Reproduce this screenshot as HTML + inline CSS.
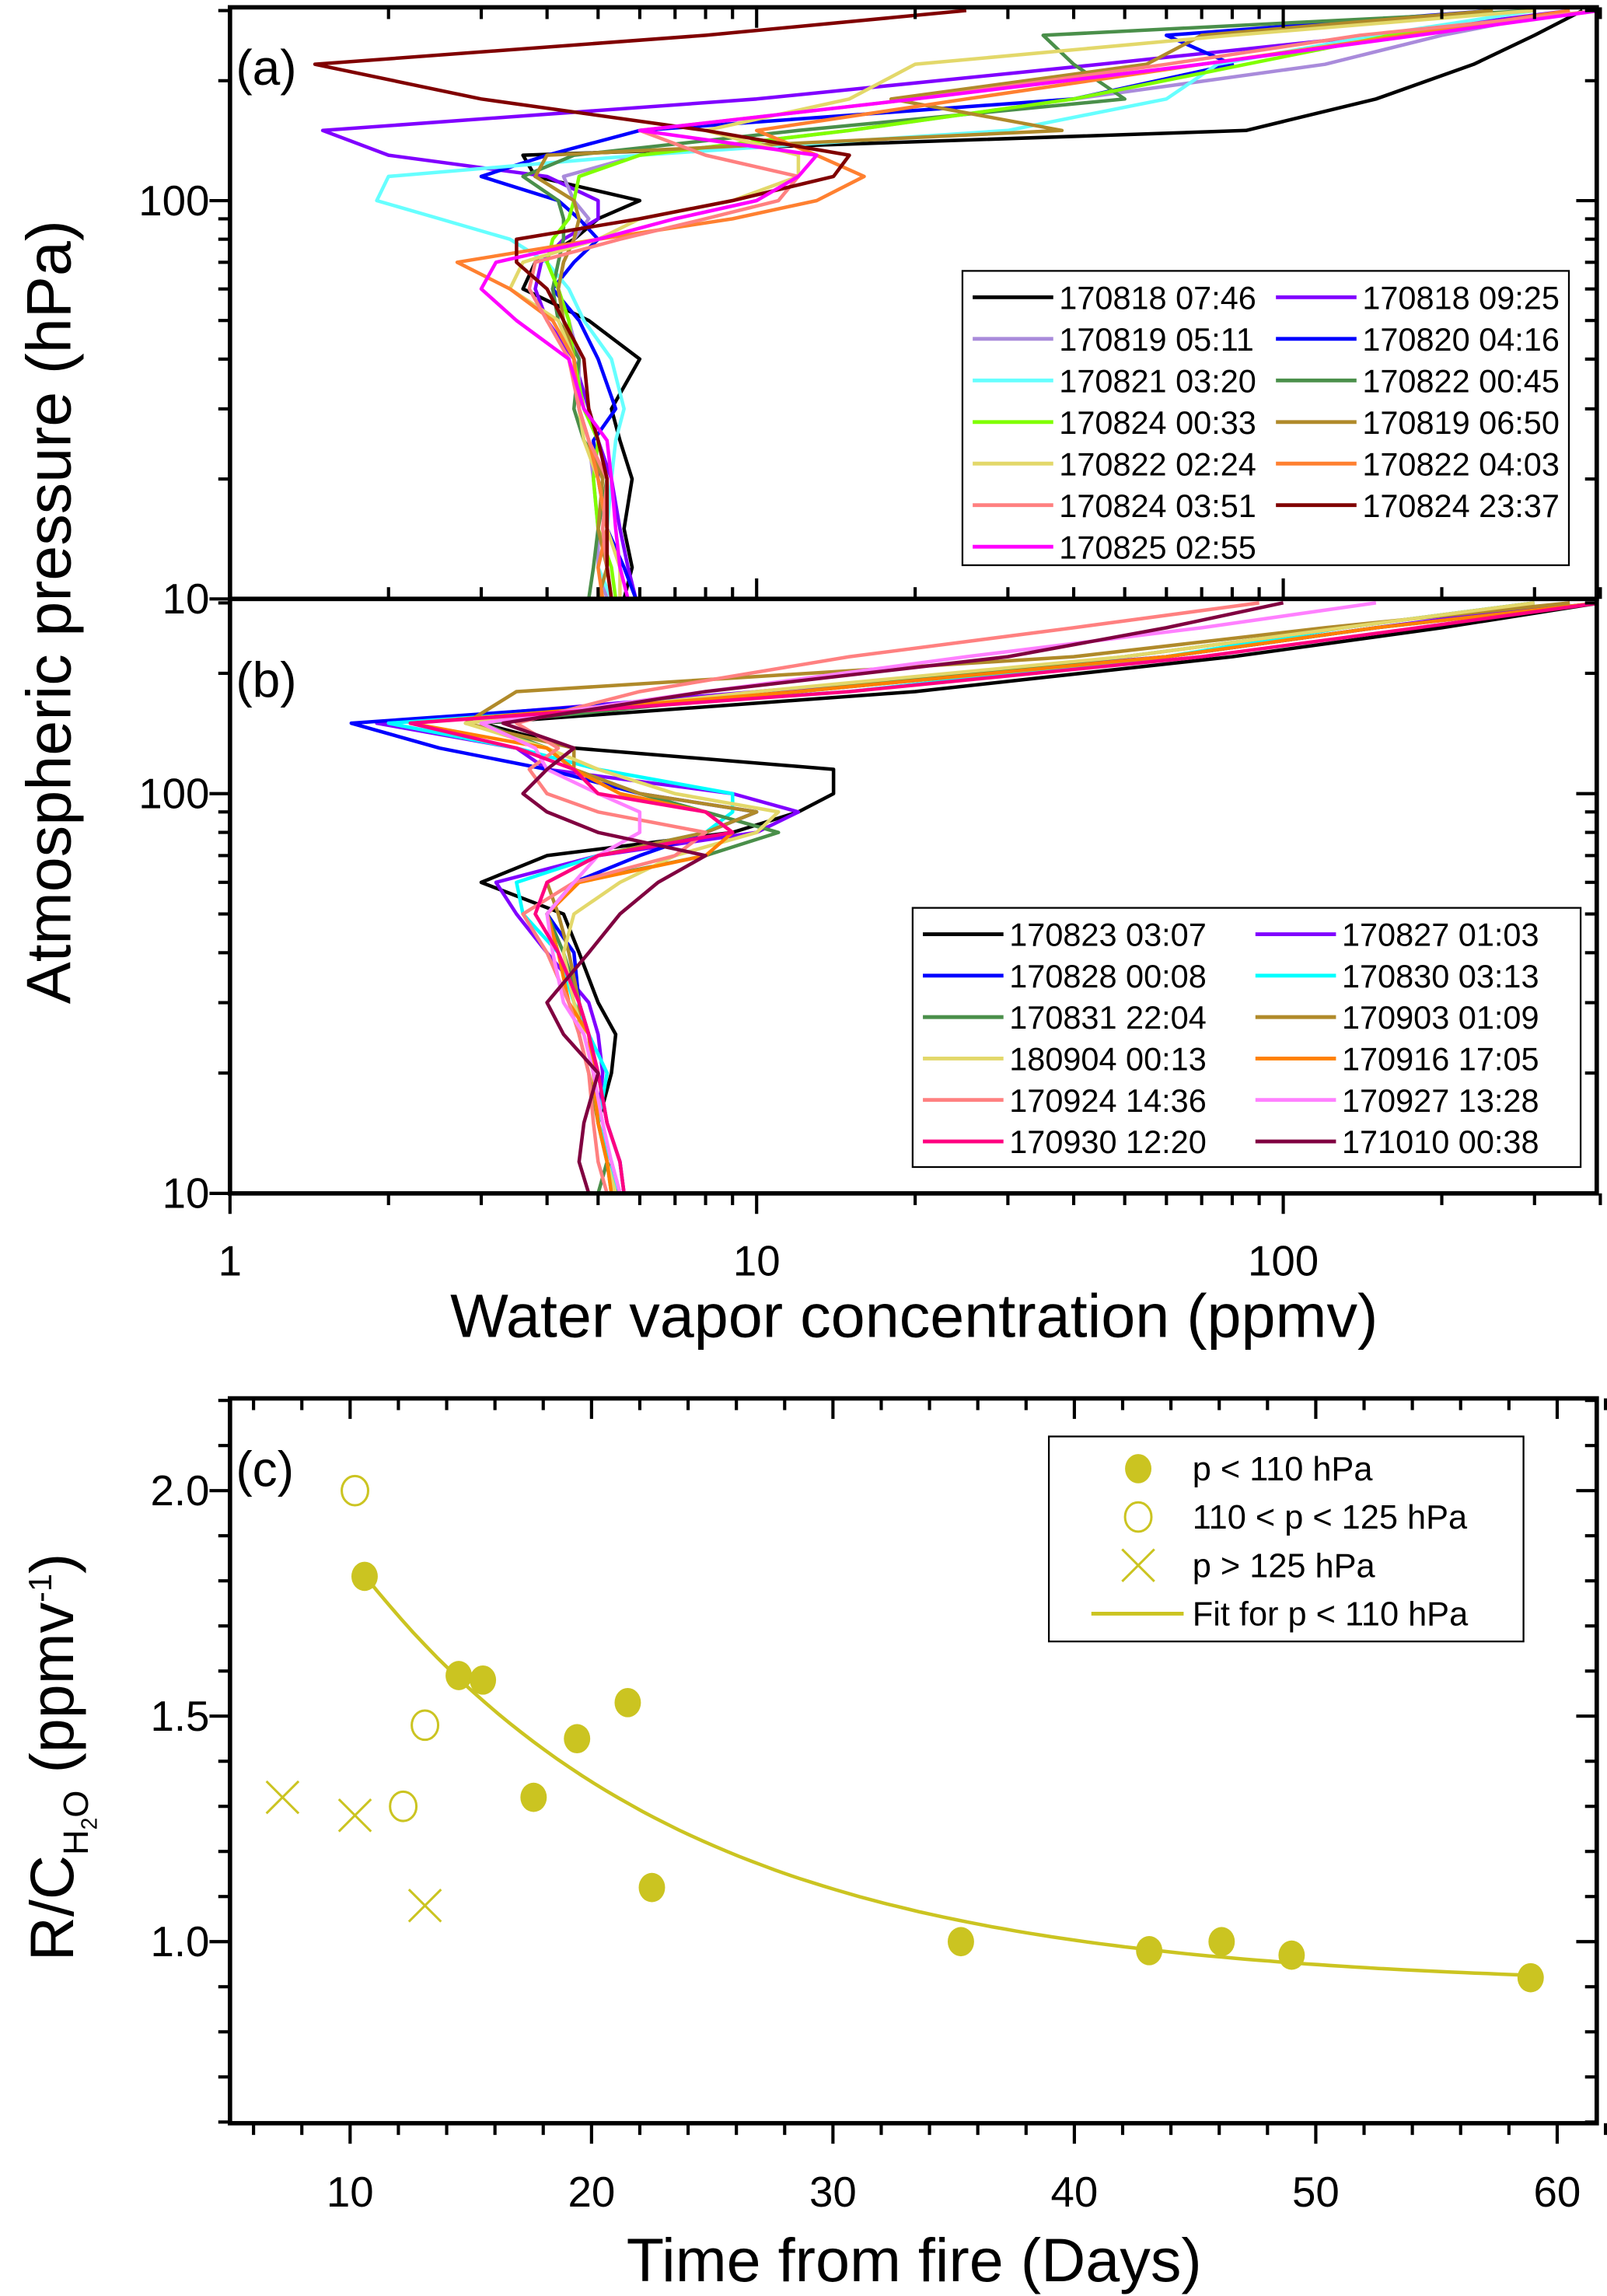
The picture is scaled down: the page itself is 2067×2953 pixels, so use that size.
<!DOCTYPE html>
<html><head><meta charset="utf-8">
<style>
html,body{margin:0;padding:0;background:#fff;}
svg{display:block;}
text{font-family:"Liberation Sans Narrow","Liberation Sans",sans-serif;fill:#000;}
</style></head>
<body>
<svg id="fig" width="2067" height="2953" viewBox="0 0 1097 1568" preserveAspectRatio="none" xmlns="http://www.w3.org/2000/svg">
<rect x="0" y="0" width="1097" height="1568" fill="#fff"/>
</svg>
<script>
// ---------- data ----------
const levels = [10,12,15,20,25,30,40,50,60,70,80,90,100,115,130,150,180,220,260,300];
const namesA = ["170818 07:46","170818 09:25","170819 05:11","170820 04:16","170821 03:20","170822 00:45","170824 00:33","170819 06:50","170822 02:24","170822 04:03","170824 03:51","170824 23:37","170825 02:55"];
const colorsA = ["#000000","#8000ff","#a98bdb","#0000ff","#66ffff","#4a8f4a","#80ff00","#b08a2a","#e3d86a","#ff8030","#ff8080","#800000","#ff00ff"];
const a0 = [5.6,5.8,5.6,5.8,5.5,5.3,6.0,4.8,3.6,3.8,4.5,5.0,6.0,3.8,3.6,85,150,230,300,370];
const a1 = [5.9,5.7,5.5,5.3,5.0,4.8,4.5,4.0,3.8,3.9,4.3,5.0,5.0,4.0,2.0,1.5,10,45,150,350];
const a2 = [5.2,5.0,5.0,4.9,4.8,4.6,4.6,4.4,4.2,4.3,4.5,4.8,4.5,4.3,6,15,40,120,200,350];
const a3 = [5.9,5.6,5.2,5.0,4.9,5.4,5.0,4.6,4.1,4.5,5.0,4.6,4.2,3.0,4.0,6,40,80,60,250];
const a4 = [5.3,5.0,5.2,5.3,5.4,5.6,5.3,4.7,4.4,4.0,3.4,2.5,1.9,2.0,6,30,60,75,150,300];
const a5 = [4.8,4.9,5.0,5.2,4.7,4.5,4.6,4.2,4.1,4.2,4.3,4.3,4.2,3.6,4.5,12,50,40,35,300];
const a6 = [5.4,5.3,5.0,4.9,5.0,4.7,4.5,4.4,4.2,4.0,4.1,4.4,4.5,4.6,6,15,40,85,160,400];
const a7 = [5.0,5.2,5.0,5.1,4.8,4.6,4.5,4.3,4.2,4.3,4.5,4.6,4.5,3.8,4.0,38,18,55,70,250];
const a8 = [5.5,5.5,5.2,5.0,4.7,4.6,4.5,4.2,3.4,3.6,5.0,6.0,9.0,12,12,8,15,20,80,300];
const a9 = [5.1,5.0,5.2,5.0,4.8,4.6,4.5,4.1,3.4,2.7,5,9,13,16,13,10,25,70,170,350];
const a10 = [5.3,5.2,5.1,5.2,4.8,4.6,4.4,4.0,3.7,3.8,5.5,8,11,12,8.0,6,20,60,140,400];
const a11 = [5.3,5.2,5.2,5.2,5.0,4.8,4.7,4.3,4.0,3.5,3.5,6,9,14,15,8,3,1.45,8,25];
const a12 = [5.7,5.5,5.4,5.3,5.2,4.7,4.4,3.5,3.0,3.2,5,7,10,12,13,6,20,70,180,400];
const seriesA = [a0,a1,a2,a3,a4,a5,a6,a7,a8,a9,a10,a11,a12];

const namesB = ["170823 03:07","170827 01:03","170828 00:08","170830 03:13","170831 22:04","170903 01:09","180904 00:13","170916 17:05","170924 14:36","170927 13:28","170930 12:20","171010 00:38"];
const colorsB = ["#000000","#8000ff","#0000ff","#00ffff","#4a8f4a","#b08a2a","#e3d86a","#ff8000","#ff8080","#ff80ff","#ff0080","#800040"];
const b0 = [5.5,5.2,5.0,5.3,5.4,5.0,4.6,4.3,3.0,4.0,9,12,14,14,4.5,3,20,80,200,400];
const b1 = [5.5,5.3,5.0,5.1,5.0,4.8,4.0,3.5,3.2,5,10,12,9,4,3.5,1.9,10,60,150,350];
const b2 = [5.6,5.5,5.2,5.0,4.8,4.6,4.5,4.0,4.5,6,8,10,6,4,2.5,1.7,12,60,150,400];
const b3 = [5.4,5.3,5.0,5.2,4.8,4.5,4.2,3.6,3.5,5,8,9,9,5,3.5,2.0,15,60,130,300];
const b4 = [5.0,5.2,5.0,4.9,4.8,4.6,4.3,4.0,4.5,8,11,8,6,4.5,4,3,12,50,130,300];
const b5 = [5.3,5.2,5.0,4.8,4.6,4.6,4.4,4.2,4.0,5.0,8,10,6,4.5,4.5,2.8,3.5,40,120,350];
const b6 = [5.4,5.2,5.0,4.9,4.7,4.5,4.3,4.5,5.5,7,10,11,7,5,4,2.8,10,50,130,300];
const b7 = [5.3,5.2,5.0,4.9,4.8,4.4,4.2,4.0,4.6,8,9,8,5.5,4.5,4.0,2.2,12,60,150,400];
const b8 = [5.2,5.0,4.9,4.8,4.6,4.4,4.0,3.6,4.5,7,8,5,4,3.7,4.2,3.5,6,15,40,90];
const b9 = [5.5,5.3,5.1,4.9,4.7,4.3,4.1,4.0,4.5,5,6,6,5,4,3.8,3.0,8,25,70,150];
const b10 = [5.6,5.5,5.2,5.0,4.8,4.6,4.2,3.8,4.0,5,9,8,5,4.5,3.5,2.2,15,70,180,400];
const b11 = [4.8,4.6,4.7,5.0,4.3,4.0,4.8,5.5,6.5,8,5,4,3.6,4,4.5,3.3,8,30,60,100];
const seriesB = [b0,b1,b2,b3,b4,b5,b6,b7,b8,b9,b10,b11];

// panel c
const fillX = [10.6,14.5,15.5,17.6,19.4,21.5,22.5,35.3,43.1,46.1,49.0,58.9];
const fillY = [1.81,1.59,1.58,1.32,1.45,1.53,1.12,1.00,0.98,1.00,0.97,0.92];
const openX = [10.2,13.1,12.2];
const openY = [2.00,1.48,1.30];
const crossX = [7.2,10.2,13.1];
const crossY = [1.32,1.28,1.08];
const fitA = 0.9, fitC = 2.0, fitT = 13.5;
const xTicksC = [10,20,30,40,50,60];
const yTicksC = [1.0,1.5,2.0];

// ---------- helpers ----------
const NS = "http://www.w3.org/2000/svg";
const svg = document.getElementById("fig");
function el(tag, attrs, parent){
  const e = document.createElementNS(NS, tag);
  for (const k in attrs) e.setAttribute(k, attrs[k]);
  (parent||svg).appendChild(e);
  return e;
}
const L = 157, R = 1090;
const lx = v => L + Math.log10(v) * 359.5;
const pyA = p => 409 - (Math.log10(p) - 1) * 272;
const pyB = p => 815 - (Math.log10(p) - 1) * 273;
const cx = d => 239 + (d - 10) * 16.48;
const cy = v => 1326 - (v - 1.0) * 308;

function drawProfiles(series, colors, py, name){
  const g = el("g", {"clip-path": "url(#clip-" + name + ")"});
  
  
  series.forEach((s, i) => {
    const pts = s.map((v, j) => lx(v).toFixed(1) + "," + py(levels[j]).toFixed(1)).join(" ");
    const pl = el("polyline", {points: pts, fill: "none", stroke: colors[i], "stroke-width": 2.4, "stroke-linejoin": "round"}, g);
    
    
  });
}
const defs = el("defs", {});
const c1 = el("clipPath", {id: "clip-panel-a"}, defs);
el("rect", {x: L, y: 5, width: R - L, height: 404}, c1);
const c2 = el("clipPath", {id: "clip-panel-b"}, defs);
el("rect", {x: L, y: 409, width: R - L, height: 406}, c2);

drawProfiles(seriesA, colorsA, pyA, "panel-a");
drawProfiles(seriesB, colorsB, pyB, "panel-b");

function frame(x, y, w, h, name){
  const r = el("rect", {x: x, y: y, width: w, height: h, fill: "none", stroke: "#000", "stroke-width": 3});
  
  
}
frame(L, 5, R - L, 404, "panel-a-frame");
frame(L, 409, R - L, 406, "panel-b-frame");
frame(L, 955, R - L, 495, "panel-c-frame");

function tick(x1, y1, x2, y2, w){
  const t = el("line", {x1: x1, y1: y1, x2: x2, y2: y2, stroke: "#000", "stroke-width": w || 2.2});
  
  
}
function label(x, y, s, size, anchor, name){
  const t = el("text", {x: x, y: y, "font-size": size, "text-anchor": anchor || "middle"});
  t.textContent = s;
  
  
  return t;
}

for (let dec = 1; dec <= 100; dec *= 10){
  for (let m = 1; m <= 9; m++){
    const v = dec * m; if (v > 400) break;
    const x = lx(v), major = m === 1;
    const len = major ? 14 : 8;
    tick(x, 815, x, 815 + len);
    tick(x, 409, x, 409 - len);
    tick(x, 5, x, 5 + len);
  }
}
[1,10,100].forEach(v => label(lx(v), 871, String(v), 29, "middle", "x-tick-label"));

[pyA, pyB].forEach(py => {
  for (let v = 10; v <= 300; v += (v < 100 ? 10 : 100)){
    const y = py(v), major = (v === 10 || v === 100);
    tick(L, y, L - (major ? 14 : 8), y);
    tick(R, y, R - (major ? 14 : 8), y);
  }
});
label(143, 147, "100", 29, "end", "y-tick-label");
label(143, 419, "10", 29, "end", "y-tick-label");
label(143, 552, "100", 29, "end", "y-tick-label");
label(143, 825, "10", 29, "end", "y-tick-label");

label(161, 58, "(a)", 34, "start", "panel-a-label");
label(161, 476, "(b)", 34, "start", "panel-b-label");
label(161, 1015, "(c)", 34, "start", "panel-c-label");

const yt = label(0, 0, "Atmospheric pressure (hPa)", 43, "middle", "y-axis-title-ab");
yt.setAttribute("transform", "translate(48,418) rotate(-90)");
yt.setAttribute("font-family", "Liberation Sans, sans-serif");
const xt = label(624, 913, "Water vapor concentration (ppmv)", 42, "middle", "x-axis-title-ab");
xt.setAttribute("font-family", "Liberation Sans, sans-serif");

function legend(x, y, w, h, names, colors, col2x, rowH, name){
  const g = el("g", {});
  
  
  el("rect", {x: x, y: y, width: w, height: h, fill: "#fff", stroke: "#000", "stroke-width": 1.2}, g);
  names.forEach((n, i) => {
    const col = i % 2, row = Math.floor(i / 2);
    const bx = x + 7 + col * col2x, by = y + 18 + row * rowH;
    const ln = el("line", {x1: bx, y1: by, x2: bx + 55, y2: by, stroke: colors[i], "stroke-width": 2.6}, g);
    
    
    const t = el("text", {x: bx + 59, y: by + 8, "font-size": 22}, g);
    t.textContent = n;
    
    
  });
}
legend(657, 185, 414, 201, namesA, colorsA, 207, 28.4, "legend-a");
legend(623, 620, 456, 177, namesB, colorsB, 227, 28.3, "legend-b");

// ---------- panel c ----------
const col = "#cbc421";
for (let d = 6; d <= 62; d += 2){
  const x = cx(d), major = d % 10 === 0;
  tick(x, 1450, x, 1450 + (major ? 14 : 8));
  tick(x, 955, x, 955 + (major ? 14 : 8));
}
xTicksC.forEach(d => label(cx(d), 1507, String(d), 29, "middle", "x-tick-label-c"));
for (let k = 6; k <= 22; k++){
  const v = k / 10, y = cy(v), major = k % 5 === 0;
  tick(L, y, L - (major ? 14 : 8), y);
  tick(R, y, R - (major ? 14 : 8), y);
}
yTicksC.forEach(v => label(143, cy(v) + 10, v.toFixed(1), 29, "end", "y-tick-label-c"));
const xtc = label(624, 1558, "Time from fire (Days)", 42, "middle", "x-axis-title-c");
xtc.setAttribute("font-family", "Liberation Sans, sans-serif");
const ytc = el("text", {transform: "translate(50,1200) rotate(-90)", "font-size": 42, "text-anchor": "middle", "font-family": "Liberation Sans, sans-serif"});


ytc.innerHTML = 'R/C<tspan font-size="24" dy="10">H</tspan><tspan font-size="15" dy="6">2</tspan><tspan font-size="24" dy="-6">O</tspan><tspan dy="-10"> (ppmv</tspan><tspan font-size="22" dy="-15">-1</tspan><tspan dy="15">)</tspan>';

let fp = [];
for (let d = fillX[0]; d <= 59.0; d += 0.5){
  fp.push(cx(d).toFixed(1) + "," + cy(fitA + fitC * Math.exp(-d / fitT)).toFixed(1));
}
const fit = el("polyline", {points: fp.join(" "), fill: "none", stroke: col, "stroke-width": 2.4});



fillX.forEach((d, i) => {
  const e = el("ellipse", {cx: cx(d), cy: cy(fillY[i]), rx: 9, ry: 10, fill: col});
  
  
});
openX.forEach((d, i) => {
  const e = el("ellipse", {cx: cx(d), cy: cy(openY[i]), rx: 9, ry: 10, fill: "none", stroke: col, "stroke-width": 1.6});
  
  
});
crossX.forEach((d, i) => {
  const x = cx(d), y = cy(crossY[i]);
  const e = el("path", {d: `M${x-11},${y-11}L${x+11},${y+11}M${x+11},${y-11}L${x-11},${y+11}`, stroke: col, "stroke-width": 1.6, fill: "none"});
  
  
});

const gl = el("g", {});


el("rect", {x: 716, y: 981, width: 324, height: 140, fill: "#fff", stroke: "#000", "stroke-width": 1.2}, gl);
const lc = ["p < 110 hPa", "110 < p < 125 hPa", "p > 125 hPa", "Fit for p < 110 hPa"];
lc.forEach((s, i) => {
  const y = 1003 + i * 33;
  if (i === 0) el("ellipse", {cx: 777, cy: y, rx: 9, ry: 10, fill: col}, gl);
  if (i === 1) el("ellipse", {cx: 777, cy: y, rx: 9, ry: 10, fill: "none", stroke: col, "stroke-width": 1.6}, gl);
  if (i === 2) el("path", {d: `M766,${y-11}L788,${y+11}M788,${y-11}L766,${y+11}`, stroke: col, "stroke-width": 1.6}, gl);
  if (i === 3) el("line", {x1: 745, y1: y, x2: 808, y2: y, stroke: col, "stroke-width": 2.6}, gl);
  const t = el("text", {x: 814, y: y + 8, "font-size": 23}, gl);
  t.textContent = s;
  
  
});
</script>
</body></html>
